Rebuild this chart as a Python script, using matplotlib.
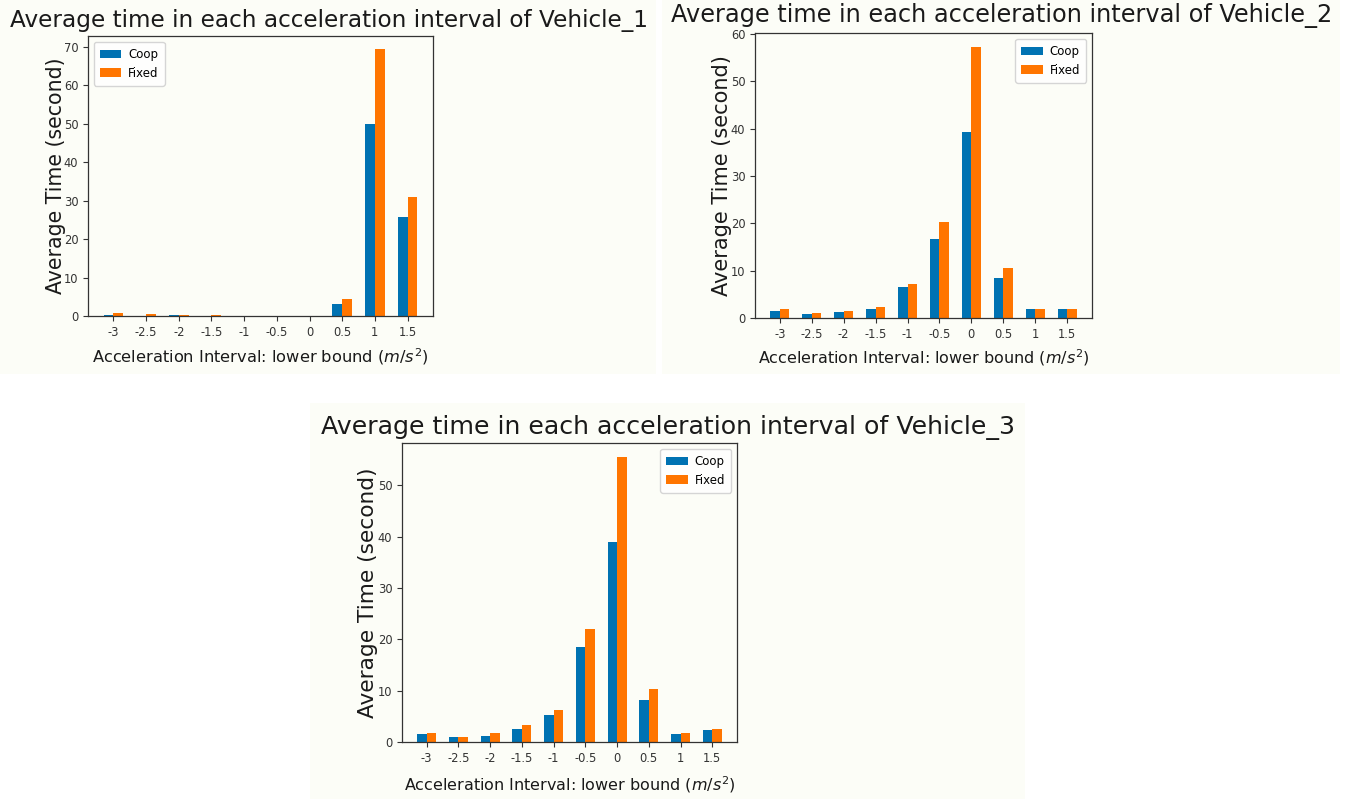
import numpy as np
import matplotlib
matplotlib.use("Agg")
import matplotlib.pyplot as plt
from matplotlib.patches import Rectangle

# Acceleration interval lower bounds (m/s^2)
intervals = ["-3", "-2.5", "-2", "-1.5", "-1", "-0.5", "0", "0.5", "1", "1.5"]
series_names = ["Coop", "Fixed"]

# Average time (seconds) spent in each interval
v1_coop = [0.3, 0.0, 0.3, 0.0, 0.0, 0.0, 0.0, 3.2, 50.0, 25.8]
v1_fixed = [0.8, 0.4, 0.3, 0.3, 0.0, 0.0, 0.0, 4.5, 69.4, 30.9]

v2_coop = [1.5, 0.8, 1.3, 2.0, 6.5, 16.7, 39.3, 8.4, 2.0, 2.0]
v2_fixed = [1.8, 1.05, 1.55, 2.4, 7.1, 20.3, 57.3, 10.6, 2.0, 2.0]

v3_coop = [1.5, 1.0, 1.2, 2.5, 5.2, 18.6, 39.0, 8.2, 1.5, 2.3]
v3_fixed = [1.75, 0.9, 1.75, 3.4, 6.2, 22.1, 55.5, 10.3, 1.75, 2.5]

vehicle_titles = [
    "Average time in each acceleration interval of Vehicle_1",
    "Average time in each acceleration interval of Vehicle_2",
    "Average time in each acceleration interval of Vehicle_3",
]

BLUE = "#0072B2"
ORANGE = "#FF7500"
PANEL_BG = "#FCFDF7"
TEXT = "#1a1a1a"

W, H = 1345, 799
fig = plt.figure(figsize=(W / 100, H / 100), dpi=100)
fig.patch.set_facecolor("white")


def px_rect(x0, y0, x1, y1):
    """Figure-fraction rectangle from pixel bounds (y measured from top)."""
    return [x0 / W, 1 - y1 / H, (x1 - x0) / W, (y1 - y0) / H]


# cream backgrounds behind each chart
for (x0, y0, x1, y1) in [(0, 0, 656, 374), (662, 0, 1340, 374), (310, 403, 1025, 799)]:
    l, b, w, h = px_rect(x0, y0, x1, y1)
    fig.patches.append(Rectangle((l, b), w, h, transform=fig.transFigure,
                                 facecolor=PANEL_BG, edgecolor="none", zorder=-5))

panels = [
    dict(coop=v1_coop, fixed=v1_fixed, title=vehicle_titles[0],
         box=(88, 36, 433, 316), title_xy=(329, 20), title_fs=16.7,
         legend_loc="upper left", ylabel_x=-0.093, xlabel_y=-0.146,
         xlabel_fs=11.7, ylabel_fs=14.8,
         yticks=[0, 10, 20, 30, 40, 50, 60, 70]),
    dict(coop=v2_coop, fixed=v2_fixed, title=vehicle_titles[1],
         box=(755, 33, 1092, 318), title_xy=(1002, 15), title_fs=17.3,
         legend_loc="upper right", ylabel_x=-0.098, xlabel_y=-0.140,
         xlabel_fs=11.5, ylabel_fs=15.0,
         yticks=[0, 10, 20, 30, 40, 50, 60]),
    dict(coop=v3_coop, fixed=v3_fixed, title=vehicle_titles[2],
         box=(402, 443, 737, 742), title_xy=(668, 427), title_fs=18.2,
         legend_loc="upper right", ylabel_x=-0.102, xlabel_y=-0.144,
         xlabel_fs=11.5, ylabel_fs=15.6,
         yticks=[0, 10, 20, 30, 40, 50]),
]

x = np.arange(len(intervals))
bw = 0.3

for p in panels:
    ax = fig.add_axes(px_rect(*p["box"]))
    ax.set_facecolor(PANEL_BG)
    ax.bar(x - bw / 2, p["coop"], bw, color=BLUE, label=series_names[0], zorder=2)
    ax.bar(x + bw / 2, p["fixed"], bw, color=ORANGE, label=series_names[1], zorder=2)
    ax.set_xticks(x)
    ax.set_xticklabels(intervals)
    ax.set_yticks(p["yticks"])
    ax.tick_params(labelsize=8.3, colors="#333333", length=3.5, width=0.8)
    for s in ax.spines.values():
        s.set_color("#333333")
        s.set_linewidth(0.9)
    ax.set_xlabel(r"Acceleration Interval: lower bound ($m/s^2$)",
                  fontsize=p["xlabel_fs"], color=TEXT)
    ax.set_ylabel("Average Time (second)", fontsize=p["ylabel_fs"], color=TEXT)
    ax.xaxis.set_label_coords(0.5, p["xlabel_y"])
    ax.xaxis.label.set_va("center")
    ax.yaxis.set_label_coords(p["ylabel_x"], 0.5)
    ax.yaxis.label.set_va("center")
    leg = ax.legend(loc=p["legend_loc"], fontsize=8.5, frameon=True,
                    handlelength=1.8, borderpad=0.5, handletextpad=0.6)
    leg.get_frame().set_facecolor("white")
    leg.get_frame().set_edgecolor("#cccccc")
    fig.text(p["title_xy"][0] / W, 1 - p["title_xy"][1] / H, p["title"],
             ha="center", va="center", fontsize=p["title_fs"], color=TEXT)

fig.savefig("out.png", dpi=100, facecolor=fig.get_facecolor())
